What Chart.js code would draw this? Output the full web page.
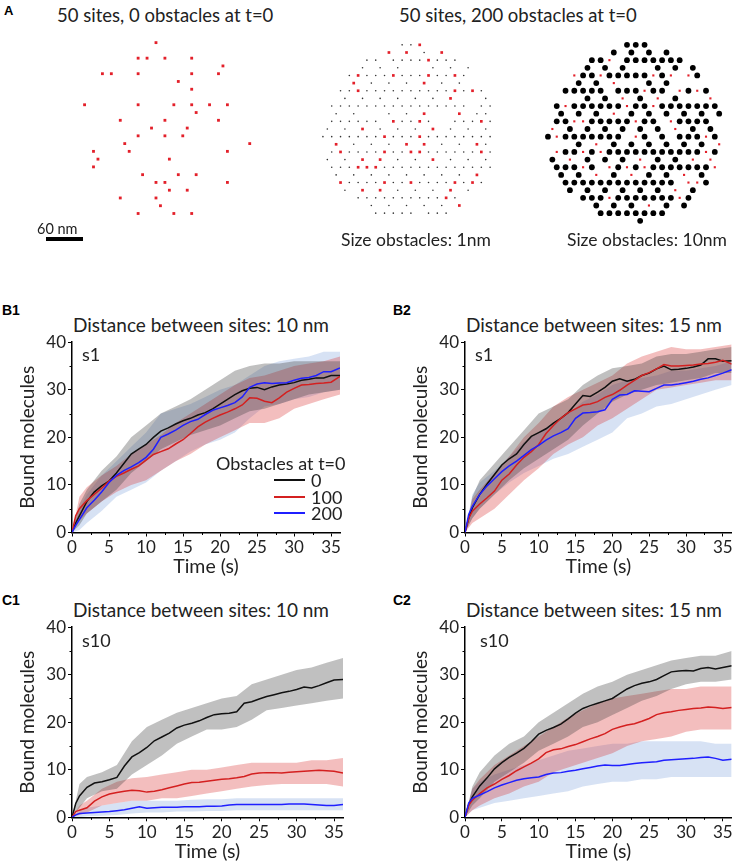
<!DOCTYPE html>
<html>
<head>
<meta charset="utf-8">
<script src="https://cdn.jsdelivr.net/npm/chart.js@4.4.1/dist/chart.umd.min.js"></script>
<style>
  body { margin: 0; width: 736px; height: 864px; overflow: hidden; background: #fff; position: relative;
         font-family: Lato, "Noto Sans", sans-serif; color: #222; }
  canvas { position: absolute; }
  .l { position: absolute; white-space: nowrap; transform: translateY(-50%); line-height: 1; }
  .p { position: absolute; font-weight: 700; font-family: Arial, "Liberation Sans", sans-serif; color: #000; }
  .key { position: absolute; height: 0; width: 31px; border-top: 2px solid; }
</style>
</head>
<body>
<!-- panel A -->
<div class="p" style="left:4px;top:3px;font-size:13px">A</div>
<div class="l" style="left:57px;top:15px;font-size:18.5px">50 sites, 0 obstacles at t=0</div>
<div class="l" style="left:399px;top:15px;font-size:18.5px">50 sites, 200 obstacles at t=0</div>
<canvas id="a1" width="200" height="200" style="left:70px;top:30px"></canvas>
<canvas id="a2" width="200" height="200" style="left:310px;top:30px"></canvas>
<canvas id="a3" width="200" height="200" style="left:536px;top:30px"></canvas>
<div class="l" style="left:37px;top:229px;font-size:14.5px">60 nm</div>
<div style="position:absolute;left:46px;top:237px;width:37px;height:4px;background:#000"></div>
<div class="l" style="left:341px;top:240px;font-size:17.5px">Size obstacles: 1nm</div>
<div class="l" style="left:567px;top:240px;font-size:17.5px">Size obstacles: 10nm</div>

<!-- panels B -->
<div class="p" style="left:2px;top:302px;font-size:14px">B1</div>
<div class="p" style="left:393px;top:302px;font-size:14px">B2</div>
<div class="l" style="left:73px;top:324px;font-size:19px">Distance between sites: 10 nm</div>
<div class="l" style="left:466px;top:324px;font-size:19px">Distance between sites: 15 nm</div>
<canvas id="b1" width="350" height="250" style="left:0px;top:330px"></canvas>
<canvas id="b2" width="343" height="250" style="left:393px;top:330px"></canvas>
<div class="l" style="left:82px;top:354px;font-size:18px">s1</div>
<div class="l" style="left:475px;top:354px;font-size:18px">s1</div>
<div class="l" style="left:216px;top:463px;font-size:18px">Obstacles at t=0</div>
<div class="key" style="left:274px;top:479px;border-color:#111"></div>
<div class="key" style="left:274px;top:496px;border-color:#d42020"></div>
<div class="key" style="left:274px;top:512px;border-color:#1f1fff"></div>
<div class="l" style="left:311px;top:480px;font-size:18px">0</div>
<div class="l" style="left:311px;top:497px;font-size:18px">100</div>
<div class="l" style="left:311px;top:513px;font-size:18px">200</div>

<!-- panels C -->
<div class="p" style="left:2px;top:592px;font-size:14px">C1</div>
<div class="p" style="left:393px;top:592px;font-size:14px">C2</div>
<div class="l" style="left:73px;top:609px;font-size:19px">Distance between sites: 10 nm</div>
<div class="l" style="left:466px;top:609px;font-size:19px">Distance between sites: 15 nm</div>
<canvas id="c1" width="352" height="249" style="left:0px;top:615px"></canvas>
<canvas id="c2" width="343" height="249" style="left:393px;top:615px"></canvas>
<div class="l" style="left:82px;top:640px;font-size:18px">s10</div>
<div class="l" style="left:480px;top:640px;font-size:18px">s10</div>

<script>
// ---------- panel A: lattice rows (half-step column indices per row) ----------
var leftSiteRows = [[16],[],[12,14,18,24],[31],[4,6,12,24,30],[21],[24],[],[0,12,20,24,28,32],[25],
  [8,18,30],[15,23],[12,18,22],[9,37],[2,10,32],[3,19],[2],[13,21,25],[16,18,32],[19,23],[8,16],[17],[12,20,24]];

var midObstacleRows = [[18,20],[23],[10,12,16,18,20,22,26,28,30],[9,13,17,25,29,33],
  [6,10,12,14,18,20,22,26,28,32],[11,15,19,27,31],[4,6,10,12,14,16,18,20,22,24,26,28,32,36],
  [5,9,13,17,21,25,37],[2,4,6,8,10,12,14,16,18,20,22,24,26,28,30,32,36,38],[3,7,15,19,35,37],
  [2,4,6,8,10,12,18,20,24,30,32,34,38],[1,5,13,17,21,29,33,37],
  [0,2,4,6,8,10,12,16,18,20,24,26,28,30,32,34,36,38],[7,11,15,27,31,37],
  [2,6,8,10,12,16,18,24,26,28,30,32,34,38],[1,5,17,21,29,33,37],
  [2,4,6,14,16,18,20,22,24,26,28,30,32,34,36,38],[3,7,11,15,19,23,27,31],
  [6,8,10,12,16,18,22,24,26,28,32,36],[5,17,21,25,33],[8,10,12,14,16,18,20,22,24,26,30],
  [11,15,19,23,27],[12,14,16,18,20,24,26,28]];
var midSiteRows = [[22],[15,19,27],[24],[],[8,16,24,30],[7,23],[8,30,34],[29],[],[23,31],[16,22,36],
  [9,25],[14,22],[3,19,23,35],[4,14,20,22,36],[9,13,25],[8,10,12],[35],[4,14,20,30,34],[9,13,29],
  [28],[31],[]];

var rightObstacleRows = [[18,20,22],[15,19,23,27],[10,12,18,20,22,24,26,28,30],[9,13,17,25,29,33],
  [8,10,14,16,18,20,22,26,34],[7,11,23,27],[4,6,8,10,12,16,18,20,24,26,32,36],[9,13,21,29],
  [2,6,8,10,12,14,16,20,22,26,28,30,32,34,36,38],[3,7,11,19,23,27,31,35,39],
  [2,4,10,12,14,16,18,22,24,30,32,34,36],[5,9,13,17,21,25,33,37],
  [0,4,6,8,10,12,14,16,22,26,30,32,34,38],[7,15,19,23,27,31,35],
  [4,6,10,14,16,18,20,22,24,26,28,30,32,34,38],[1,9,13,17,25,29],
  [2,4,6,10,16,20,24,26,28,30,32,34,36],[3,7,15,23,27,35],
  [4,6,8,10,12,14,16,18,20,22,24,26,28,36],[5,9,13,17,21,25,33],
  [8,10,12,16,18,20,22,24,26,28,32],[11,15,19,27,31],[12,14,16,18,20,22,24,26],[21]];
var rightSiteRows = [[],[],[14],[],[6,12,24,28,32],[15],[22,30,34],[17,25,37],[4,18,24],[15],
  [6,8,20,28],[1,29],[2,20,36],[11,39],[2,8,12,36],[5,21,33,37],[8,14,18,22,38],[11,19,31],
  [32,34],[29],[14,30],[23],[],[]];

// ---------- panels B / C: time courses ----------
var time = [0,0.5,1,2,3,4,5,6,7,8,9,10,11,12,13,14,15,16,17,18,19,20,21,22,23,24,25,26,27,28,29,30,31,32,33,34,35,36.2];
var bandTime = [0,1,2,4,6,8,10,12,14,16,18,20,22,24,26,28,30,32,34,36.2];

// B1: s1, 10 nm
var b1Black = [0,2,3.5,6.5,8.5,9.8,10.8,12.5,14.5,16.5,17.5,18.5,20,21.3,22,22.8,23.5,24,24.7,25.2,26,27,28,29,29.8,30.3,30.5,30,30.6,31,31.2,31.5,32,32.2,32.5,32.5,33,33];
var b1Red = [0,3.5,5,6.7,8,9.3,10.8,11.8,12.5,13.3,14,15.2,16.4,17,17.6,18.6,19.5,20.8,22.2,23.2,24,24.7,25.3,26,26.8,28.3,28.2,27.6,27.3,28.3,29.5,30.3,31,31.1,31.3,31.4,31.6,32.8];
var b1Blue = [0,1.5,2.7,5.2,6.8,8.5,10.5,12,13,13.8,14.7,15.8,17.5,20,20.7,21.5,22.5,23.3,23.8,24.8,25.7,26.2,26.7,27.3,28.5,30.5,31.2,31.5,31.3,31.4,31.5,32,32.4,32.6,33,33.8,33.8,34.6];
var b1BlackHi = [0,6,9,13,16,20,22.5,25,26.5,28,30,32,34,35,35.5,35.5,36,36,36,36];
var b1BlackLo = [0,1.5,4,6.5,9,12.5,15,17.5,19,20.5,21.5,22.5,24,25.5,26,27,28,29,29.5,30];
var b1RedHi = [0,7.5,9.5,12,14,16.5,18.5,20.5,23,25,27,29,31,32.5,33,34,35,35.5,36,37];
var b1RedLo = [0,2.5,4,6.5,8.5,10,11,13,15,16.5,18.5,20,21.5,23,23,24,26,27,28,29];
var b1BlueHi = [0,5,8,12,15,18,21,25,26,27,28.5,30,31,33,35,36,36.5,37,38,38];
var b1BlueLo = [0,0.5,2,4.5,7.5,9,10.5,13,15,17,18.5,19.5,21,24,26.5,27,28,28.5,29.5,30];

// B2: s1, 15 nm
var b2Black = [0,3,5.2,8,10.2,12.2,14.2,15.5,16.5,18.5,20.2,21,21.8,23,24,25.2,27,28.8,28.6,29.5,30.5,31.8,32.3,31.8,32.2,33,33.5,34.4,35,34.2,34.3,34.5,34.8,35.2,36.5,36.5,36,36.1];
var b2Red = [0,3,4.5,6,7.3,8.7,11,12.3,14.2,15.8,17,18.5,20.8,22.5,24,25.2,26,26.8,27,27.5,28.4,29,29.9,31,32,33,33.6,34.4,35.3,35,35,35.1,35.2,35.4,35.5,35.8,36.2,35.4];
var b2Blue = [0,3.8,5.5,8,9.8,11.3,12.8,14,15,16.2,17.4,18.3,19.4,20.3,21,21.8,24,25.1,25.2,25.4,25.8,28,28.9,29,29.8,29.7,29.6,30.3,31,31,31.2,31.5,31.8,32.2,32.5,33,33.5,34.2];
var b2BlackHi = [0,7.5,11,14.5,18,21.5,25,26.5,28,31,33,34.5,35,35.5,37,37.5,37.5,38,38.5,39];
var b2BlackLo = [0,3,5,8,11,13.5,15.5,17.5,19.5,22.5,25,27.5,29,30,31,31.5,32,32.5,33.5,33.5];
var b2RedHi = [0,7,9,12.5,16,20,23,26.5,28.5,30,31.5,33,35.5,37,38,39,38.5,38.5,39,39.5];
var b2RedLo = [0,2,3,5,8,11,13.5,16.5,18.5,20,22.5,24,26,28,30,30.5,31,31.5,32,32];
var b2BlueHi = [0,8,10.5,13,16,19,21,23,25,27.5,29,31,32,32.5,33,34,34,34.5,35,36];
var b2BlueLo = [0,3,5,8,10.5,12.5,14,15.5,16.5,18,19.5,21,24,25,26.5,27,28,29,30,31];

// C1: s10, 10 nm
var c1Black = [0,2.9,4.5,6.3,7.2,7.5,7.9,8.4,10.8,12.7,13.6,14.7,16.1,16.9,17.7,18.8,19.4,19.8,20.3,21,21.6,21.8,21.9,22.2,24,24.3,24.9,25.4,25.8,26.2,26.5,26.9,27.4,27.2,27.7,28.3,28.9,29];
var c1Red = [0,1.2,1.5,2,3.4,4.3,4.9,5.2,5.5,5.7,5.6,5.3,5.5,5.8,6.2,6.6,7,7.3,7.4,7.6,7.8,8,8.1,8.3,8.6,9.1,9.3,9.4,9.4,9.3,9.5,9.6,9.7,9.8,9.9,9.8,9.7,9.3];
var c1Blue = [0,0.5,0.8,0.9,1,1.1,1.2,1.4,1.6,1.9,2.2,1.9,2,2.1,2.1,2.1,2.2,2.2,2.2,2.3,2.3,2.4,2.6,2.7,2.7,2.7,2.7,2.7,2.7,2.7,2.8,2.8,2.8,2.7,2.6,2.5,2.5,2.7];
var c1BlackHi = [0,7,8.5,9.5,11,16,19,20.5,22,23,24,25,25.5,28,29,30,31,31.5,32.5,33.5];
var c1BlackLo = [0,2,4,5.5,6,9,11,13,15.5,17,18.5,18.5,19,20.5,22.5,23,23.5,24,24.5,25];
var c1RedHi = [0,2.5,3.5,6,7.5,8.2,8.5,9,9.5,10,10,10.5,11,11.5,11.5,11.5,11.5,12,12,12.5];
var c1RedLo = [0,0.5,1,2.5,3,3.5,3.5,4,4,4.5,5,5.5,6,6.5,6.8,7,7,7,7,6.5];
var c1BlueHi = [0,1.5,2,2.5,3,3.5,3.5,3.5,3.5,3.7,3.8,3.8,4,4,4,4,4,4,4,4];
var c1BlueLo = [0,0,0.2,0.3,0.5,0.8,1,1,1.2,1.2,1.3,1.3,1.5,1.5,1.5,1.5,1.5,1.5,1.5,1.5];

// C2: s10, 15 nm
var c2Black = [0,2.7,4.3,6.6,8.3,10.2,11.5,12.6,13.5,14.5,15.9,17.5,18.3,18.9,19.6,20.7,21.9,22.9,23.5,24,24.5,25,26,27,27.7,28.2,28.5,29,29.8,30.6,30.8,30.9,30.8,31.3,31.5,31.2,31.5,31.9];
var c2Red = [0,2.5,3.6,5,6.2,7,8,8.8,9.8,10.6,11.4,12.3,13.6,14.2,14.4,14.9,15.3,15.9,16.5,17,17.6,18.5,19,19.4,19.7,20.2,20.8,21.6,22,22.2,22.5,22.7,22.9,23,23.2,23.1,22.9,23.1];
var c2Blue = [0,3,4,4.7,5.4,6.2,6.8,7.3,7.8,8.1,8.3,8.5,9,9.3,9.4,9.7,9.9,10.2,10.5,10.8,11,10.9,10.9,11.1,11.3,11.5,11.6,11.7,12,12.1,12.2,12.3,12.4,12.6,12.7,12.4,12,12.2];
var c2BlackHi = [0,6.5,9.5,13,15.5,17,20,22,24,26,27.5,28.5,30,31,32,33,33.5,34,34,35];
var c2BlackLo = [0,2.5,4,7.5,9.5,11.5,14,15.5,17,19,20,21.5,23,24.5,25.5,27,28,28.5,28.5,29];
var c2RedHi = [0,6,8,11,13,15,17,19,21,22.5,24,25,25.5,26,26.5,27,27,27.5,27.5,27.5];
var c2RedLo = [0,1.5,2.5,4,5,6.5,7.5,9.5,10.5,11.5,12.5,13.5,15,16,16.5,17,18,18.5,18.5,18.5];
var c2BlueHi = [0,6,7.5,9,10,11,12,13,14,14.5,15,15.5,15.5,16,16,16,16,16,15.5,15.5];
var c2BlueLo = [0,1.5,2,3,3.5,4,4.5,5,5.5,6.5,7,7.5,7.5,8,8,8.5,8.5,8.5,8.5,8.5];

var xTicks = [0,5,10,15,20,25,30,35];
var yTicks = [0,10,20,30,40];

// ---------- drawing ----------
Chart.defaults.font.family = 'Lato, "Noto Sans", sans-serif';
Chart.defaults.color = '#222';

var LINE = { black: '#111111', red: '#d42020', blue: '#1f1fff' };
var BAND = { black: 'rgba(60,60,60,0.32)', red: 'rgba(215,40,40,0.3)', blue: 'rgba(110,150,215,0.28)' };

function pairs(xs, ys) {
  return xs.map(function (x, i) { return { x: x, y: ys[i] }; });
}

function latticePoints(rows) {
  var pts = [];
  rows.forEach(function (ks, r) {
    ks.forEach(function (k) { pts.push({ x: k, y: r }); });
  });
  return pts;
}

function drawLattice(id, sets, xr, yr) {
  new Chart(document.getElementById(id), {
    type: 'scatter',
    data: {
      datasets: sets.map(function (s) {
        return {
          data: latticePoints(s.rows),
          pointRadius: s.r,
          pointStyle: s.style || 'circle',
          pointBackgroundColor: s.color,
          pointBorderWidth: 0,
          clip: false
        };
      })
    },
    options: {
      responsive: false, animation: false, events: [],
      layout: { padding: 0 },
      plugins: { legend: { display: false }, tooltip: { enabled: false } },
      scales: {
        x: { display: false, min: xr[0], max: xr[1] },
        y: { display: false, reverse: true, min: yr[0], max: yr[1] }
      }
    }
  });
}

drawLattice('a1', [{ rows: leftSiteRows, r: 2, color: '#e3202a', style: 'rect' }], [-2.366, 40.645], [-1.112, 23.61]);
drawLattice('a2', [
  { rows: midSiteRows, r: 1.9, color: '#e3202a', style: 'rect' },
  { rows: midObstacleRows, r: 0.8, color: '#333' }
], [-2.03, 41.61], [-1.418, 23.68]);
drawLattice('a3', [
  { rows: rightSiteRows, r: 1.5, color: '#e3202a', style: 'rect' },
  { rows: rightObstacleRows, r: 2.9, color: '#000' }
], [-1.815, 41.92], [-1.418, 23.68]);

var minorTicks = {
  id: 'minorTicks',
  afterDraw: function (chart, args, opts) {
    var ctx = chart.ctx, xs = chart.scales.x, ys = chart.scales.y;
    ctx.save();
    ctx.strokeStyle = '#000';
    ctx.lineWidth = 1;
    opts.x.forEach(function (v) {
      var px = Math.round(xs.getPixelForValue(v)) + 0.5;
      ctx.beginPath(); ctx.moveTo(px, xs.top); ctx.lineTo(px, xs.top + 2.5); ctx.stroke();
    });
    opts.y.forEach(function (v) {
      var py = Math.round(ys.getPixelForValue(v)) + 0.5;
      ctx.beginPath(); ctx.moveTo(ys.right, py); ctx.lineTo(ys.right - 2.5, py); ctx.stroke();
    });
    ctx.restore();
  }
};

function drawPanel(id, d, box) {
  var lines = [['blue', d.blue], ['red', d.red], ['black', d.black]].map(function (s) {
    return { data: pairs(time, s[1]), borderColor: LINE[s[0]], borderWidth: 1.5,
             pointRadius: 0, fill: false, tension: 0 };
  });
  var bands = [];
  [['black', d.blackLo, d.blackHi], ['red', d.redLo, d.redHi], ['blue', d.blueLo, d.blueHi]].forEach(function (s) {
    bands.push({ data: pairs(bandTime, s[1]), borderWidth: 0, borderColor: 'transparent',
                 pointRadius: 0, fill: false, tension: 0 });
    bands.push({ data: pairs(bandTime, s[2]), borderWidth: 0, borderColor: 'transparent',
                 pointRadius: 0, fill: '-1', backgroundColor: BAND[s[0]], tension: 0 });
  });

  new Chart(document.getElementById(id), {
    type: 'line',
    data: { datasets: lines.concat(bands) },
    plugins: [minorTicks],
    options: {
      responsive: false, animation: false, events: [],
      layout: { padding: { top: box.top, right: box.right, left: 0, bottom: 0 } },
      plugins: {
        legend: { display: false }, tooltip: { enabled: false },
        minorTicks: { x: [2.5, 7.5, 12.5, 17.5, 22.5, 27.5, 32.5], y: [5, 15, 25, 35] }
      },
      scales: {
        x: {
          type: 'linear', min: 0, max: 36.2,
          afterBuildTicks: function (s) { s.ticks = xTicks.map(function (v) { return { value: v }; }); },
          afterFit: function (s) { s.height = box.xh; },
          ticks: { font: { size: 17 }, color: '#222', padding: 1, maxRotation: 0 },
          grid: { drawOnChartArea: false, tickLength: 4, color: '#000', lineWidth: 1 },
          border: { color: '#000', width: 1.5 },
          title: { display: true, text: 'Time (s)', color: '#222', font: { size: 19.5, lineHeight: 1.2 },
                   padding: { top: 0, bottom: box.tb } }
        },
        y: {
          min: 0, max: 40,
          afterBuildTicks: function (s) { s.ticks = yTicks.map(function (v) { return { value: v }; }); },
          afterFit: function (s) { s.width = 72; },
          ticks: { font: { size: 17 }, color: '#222', padding: 2 },
          grid: { drawOnChartArea: false, tickLength: 4, color: '#000', lineWidth: 1 },
          border: { color: '#000', width: 1.5 },
          title: { display: true, text: 'Bound molecules', color: '#222', font: { size: 19, lineHeight: 1.2 },
                   padding: { top: 16, bottom: 0 } }
        }
      }
    }
  });
}

drawPanel('b1', { black: b1Black, red: b1Red, blue: b1Blue, blackLo: b1BlackLo, blackHi: b1BlackHi,
  redLo: b1RedLo, redHi: b1RedHi, blueLo: b1BlueLo, blueHi: b1BlueHi }, { top: 9, right: 10, xh: 47.5, tb: 2 });
drawPanel('b2', { black: b2Black, red: b2Red, blue: b2Blue, blackLo: b2BlackLo, blackHi: b2BlackHi,
  redLo: b2RedLo, redHi: b2RedHi, blueLo: b2BlueLo, blueHi: b2BlueHi }, { top: 9, right: 4.3, xh: 47.5, tb: 2 });
drawPanel('c1', { black: c1Black, red: c1Red, blue: c1Blue, blackLo: c1BlackLo, blackHi: c1BlackHi,
  redLo: c1RedLo, redHi: c1RedHi, blueLo: c1BlueLo, blueHi: c1BlueHi }, { top: 9.3, right: 9, xh: 46.7, tb: 1 });
drawPanel('c2', { black: c2Black, red: c2Red, blue: c2Blue, blackLo: c2BlackLo, blackHi: c2BlackHi,
  redLo: c2RedLo, redHi: c2RedHi, blueLo: c2BlueLo, blueHi: c2BlueHi }, { top: 9.3, right: 4.3, xh: 46.7, tb: 1 });
</script>
</body>
</html>
